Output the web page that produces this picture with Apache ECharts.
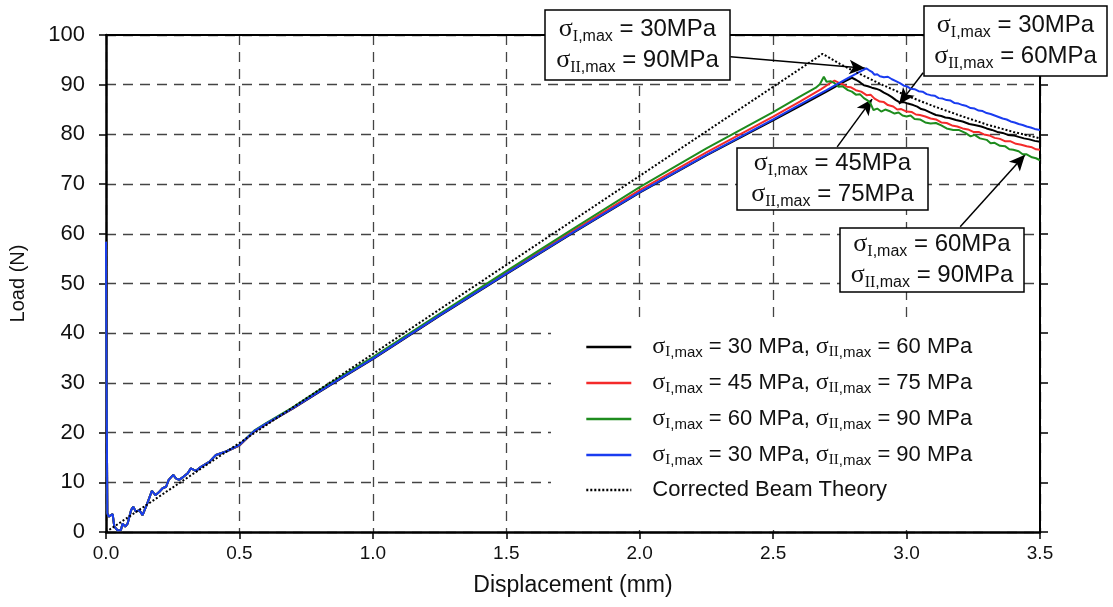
<!DOCTYPE html>
<html>
<head>
<meta charset="utf-8">
<script src="https://cdn.jsdelivr.net/npm/echarts@6/dist/echarts.min.js"></script>
<style>
html,body{margin:0;padding:0;background:#fff;}
#chart{width:1113px;height:607px;}
</style>
</head>
<body>
<div id="chart"></div>
<script>
// ---------- DATA ----------
const xTicks = [0, 0.5, 1.0, 1.5, 2.0, 2.5, 3.0, 3.5];
const yTicks = [0, 10, 20, 30, 40, 50, 60, 70, 80, 90, 100];

const seriesNames = [
  'σI,max = 30 MPa, σII,max = 60 MPa',
  'σI,max = 45 MPa, σII,max = 75 MPa',
  'σI,max = 60 MPa, σII,max = 90 MPa',
  'σI,max = 30 MPa, σII,max = 90 MPa',
  'Corrected Beam Theory'
];

// shared start-up portion (load spike + noisy toe) — all test curves overlap here
const startupPoints = [
  [0,58.4],[0.002,30],[0.005,3.8],[0.01,3.1],[0.025,3.6],[0.031,1.1],[0.044,0.3],[0.056,0.4],
  [0.062,1.7],[0.072,1.1],[0.081,1.7],[0.094,4.4],[0.102,5.1],[0.112,4.1],[0.125,4.4],[0.137,3.4],
  [0.15,5.1],[0.162,6.8],[0.172,8.3],[0.185,7.4],[0.2,8.1],[0.212,8.8],[0.225,9.1],[0.235,10.5],
  [0.252,11.5],[0.262,10.8],[0.274,10.5],[0.29,11.1],[0.306,11.8],[0.318,12.8],[0.337,12.3],
  [0.356,13.1],[0.387,14.1],[0.412,15.5],[0.45,16.2]
];

const black30_60 = [
  [0.5,17.4],[0.555,20.2],[0.6,21.7],[0.7,24.8],[0.8,28.2],[0.9,31.5],[1.0,34.8],[1.25,43.5],[1.5,51.9],
  [1.75,60.2],[2.0,68.3],[2.25,75.8],[2.5,82.8],[2.6,85.7],[2.7,88.6],[2.77,90.7],[2.795,91.4],
  [2.81,91.0],[2.825,90.5],[2.84,89.9],[2.855,89.7],[2.87,89.4],[2.885,89.2],[2.90,88.9],[2.915,88.4],
  [2.93,88.0],[2.945,87.5],[2.96,86.9],[2.976,86.4],[2.99,86.5],[3.005,86.2],[3.025,85.9],[3.04,85.6],
  [3.055,85.1],[3.07,84.9],[3.09,84.4],[3.11,83.9],[3.13,83.7],[3.145,83.4],[3.16,83.3],[3.185,82.9],
  [3.21,82.6],[3.235,82.1],[3.255,81.9],[3.28,81.6],[3.30,81.2],[3.32,80.9],[3.34,80.5],[3.36,80.3],
  [3.38,79.9],[3.40,79.8],[3.42,79.5],[3.44,79.2],[3.46,79.0],[3.48,78.7],[3.5,78.5]
];

const red45_75 = [
  [0.5,17.4],[0.555,20.3],[0.6,21.8],[0.7,24.9],[0.8,28.4],[0.9,31.7],[1.0,35.0],[1.25,43.7],[1.5,52.2],
  [1.75,60.6],[2.0,68.8],[2.25,76.4],[2.5,83.6],[2.6,86.6],[2.68,89.1],[2.71,90.2],[2.73,90.8],
  [2.745,90.4],[2.76,90.1],[2.776,89.6],[2.79,89.5],[2.81,88.9],[2.83,88.6],[2.85,87.9],[2.865,88.0],
  [2.88,87.2],[2.9,86.6],[2.915,86.5],[2.93,85.9],[2.95,85.6],[2.965,85.0],[2.98,85.1],[3.0,84.6],
  [3.02,84.5],[3.035,84.0],[3.05,83.9],[3.07,83.6],[3.09,83.2],[3.11,83.0],[3.13,82.4],[3.15,82.3],
  [3.17,81.8],[3.19,81.6],[3.21,81.2],[3.23,81.0],[3.25,80.5],[3.27,80.5],[3.29,80.0],[3.31,79.8],
  [3.33,79.3],[3.35,79.1],[3.37,78.6],[3.39,78.6],[3.41,78.1],[3.43,77.9],[3.45,77.6],[3.47,77.4],
  [3.485,77.0],[3.5,76.9]
];

const green60_90 = [
  [0.5,17.5],[0.555,20.4],[0.6,21.9],[0.7,25.1],[0.8,28.6],[0.9,31.9],[1.0,35.2],[1.25,43.9],[1.5,52.5],
  [1.75,61.0],[2.0,69.4],[2.25,77.2],[2.5,84.5],[2.6,87.6],[2.66,89.4],[2.675,90.1],[2.69,91.6],
  [2.70,90.6],[2.715,90.7],[2.73,90.3],[2.745,89.6],[2.76,89.7],[2.78,88.9],[2.795,88.6],[2.81,88.0],
  [2.825,88.1],[2.84,87.3],[2.855,86.8],[2.866,86.1],[2.876,84.9],[2.89,85.2],[2.905,84.6],[2.92,85.0],
  [2.94,84.6],[2.955,84.2],[2.97,84.4],[2.985,83.8],[3.0,83.6],[3.015,83.8],[3.03,83.1],[3.05,83.0],
  [3.07,82.4],[3.09,82.2],[3.11,82.3],[3.13,81.8],[3.15,81.2],[3.175,80.9],[3.195,80.9],[3.22,80.3],
  [3.24,79.6],[3.255,79.9],[3.275,79.2],[3.30,78.9],[3.315,78.2],[3.33,78.3],[3.35,77.7],[3.37,77.6],
  [3.385,77.0],[3.40,76.9],[3.42,76.6],[3.435,76.0],[3.45,76.0],[3.47,75.4],[3.485,75.2],[3.5,74.8]
];

const blue30_90 = [
  [0.5,17.5],[0.555,20.3],[0.6,21.8],[0.7,24.9],[0.8,28.3],[0.9,31.6],[1.0,34.9],[1.25,43.6],[1.5,52.0],
  [1.75,60.3],[2.0,68.4],[2.25,75.9],[2.5,83.0],[2.6,86.0],[2.7,88.9],[2.78,91.3],[2.849,93.3],
  [2.86,92.9],[2.87,92.6],[2.88,92.0],[2.89,92.1],[2.90,91.7],[2.915,91.5],[2.93,91.6],[2.945,91.1],
  [2.96,90.7],[2.975,90.3],[2.99,89.8],[3.0,89.7],[3.015,89.2],[3.03,89.1],[3.045,88.7],[3.06,88.6],
  [3.075,88.1],[3.09,87.9],[3.105,87.8],[3.12,87.3],[3.135,87.2],[3.15,86.9],[3.165,86.8],[3.18,86.3],
  [3.195,86.2],[3.21,85.9],[3.225,85.7],[3.24,85.3],[3.255,85.2],[3.27,84.8],[3.285,84.7],[3.30,84.3],
  [3.315,84.1],[3.33,83.8],[3.345,83.5],[3.36,83.2],[3.375,83.0],[3.39,82.6],[3.405,82.4],[3.42,82.1],
  [3.435,81.9],[3.45,81.6],[3.465,81.4],[3.48,81.1],[3.5,80.9]
];

const beamTheory = [
  [0,0],[2.685,96.2],[2.75,94.2],[2.8,92.8],[2.9,90.2],[3.0,87.8],[3.1,85.7],[3.2,83.8],[3.3,82.0],[3.4,80.5],[3.5,79.2]
];

// annotation arrows: [fromX, fromY, toX, toY] in data units
const annotationArrows = [
  [2.340, 95.6, 2.845, 93.3],
  [3.062, 92.4, 2.972, 86.1],
  [2.740, 77.5, 2.871, 87.1],
  [3.201, 61.4, 3.444, 75.9]
];
// annotation labels: [sigmaI, sigmaII]
const annotationLabels = [
  ['30', '90'],
  ['30', '60'],
  ['45', '75'],
  ['60', '90']
];
// ---------- END DATA ----------

const colors = ['#000000', '#f42a2a', '#1e8c1e', '#1a3cf0', '#000000'];

const richStyles = {
  t: {fontSize: 22, fontFamily: 'Liberation Sans', color: '#111', lineHeight: 26},
  s: {fontSize: 24, fontFamily: 'Liberation Serif', color: '#111', lineHeight: 26},
  r: {fontSize: 15, fontFamily: 'Liberation Serif', color: '#111', lineHeight: 15, verticalAlign: 'bottom'},
  m: {fontSize: 15, fontFamily: 'Liberation Sans', color: '#111', lineHeight: 15, verticalAlign: 'bottom'}
};
const boxRich = {
  t: {fontSize: 24, fontFamily: 'Liberation Sans', fill: '#111', lineHeight: 31},
  s: {fontSize: 26, fontFamily: 'Liberation Serif', fill: '#111', lineHeight: 31},
  r: {fontSize: 16, fontFamily: 'Liberation Serif', fill: '#111', lineHeight: 16, verticalAlign: 'bottom'},
  m: {fontSize: 16, fontFamily: 'Liberation Sans', fill: '#111', lineHeight: 16, verticalAlign: 'bottom'}
};

function legendRich(name) {
  if (name === 'Corrected Beam Theory') return '{t|' + name + '}';
  const m = name.match(/σI,max = (\d+) MPa, σII,max = (\d+) MPa/);
  return '{s|σ}{r|I}{m|,max}{t| = ' + m[1] + ' MPa, }{s|σ}{r|II}{m|,max}{t| = ' + m[2] + ' MPa}';
}

const chart = echarts.init(document.getElementById('chart'));

const dataSets = [
  startupPoints.concat(black30_60),
  startupPoints.concat(red45_75),
  startupPoints.concat(green60_90),
  startupPoints.concat(blue30_90),
  beamTheory
];

const series = dataSets.map((d, i) => ({
  name: seriesNames[i],
  type: 'line',
  data: d,
  symbol: 'none',
  showSymbol: false,
  smooth: false,
  animation: false,
  lineStyle: {color: colors[i], width: 2, type: i === 4 ? [2, 2] : 'solid'},
  itemStyle: {color: colors[i]},
  z: 3 + i
}));

series.push({
  type: 'line',
  name: 'arrows',
  data: [],
  animation: false,
  markLine: {
    silent: true,
    animation: false,
    symbol: ['none', 'arrow'],
    symbolSize: [11, 16],
    label: {show: false},
    lineStyle: {color: '#000', width: 1.5, type: 'solid'},
    emphasis: {disabled: true},
    data: annotationArrows.map(a => [{coord: [a[0], a[1]]}, {coord: [a[2], a[3]]}])
  },
  z: 20
});

// annotation box geometry (pixel layout)
const boxRects = [
  [545, 10, 185, 70],
  [924, 6, 183, 70],
  [737, 148, 191, 62],
  [840, 228, 184, 64]
];

const graphics = [{
  // white panel behind the legend (hides grid lines there)
  type: 'rect', z: 1, silent: true,
  shape: {x: 551, y: 322, width: 487, height: 208},
  style: {fill: '#fff'}
}];
annotationLabels.forEach((lab, i) => {
  const [bx, by, bw, bh] = boxRects[i];
  graphics.push({
    type: 'rect', z: 100,
    shape: {x: bx, y: by, width: bw, height: bh},
    style: {fill: '#fff', stroke: '#000', lineWidth: 1.5}
  });
  graphics.push({
    type: 'text', z: 101,
    x: bx + bw / 2, y: by + bh / 2,
    style: {
      text: '{s|σ}{r|I}{m|,max}{t| = ' + lab[0] + 'MPa}\n{s|σ}{r|II}{m|,max}{t| = ' + lab[1] + 'MPa}',
      rich: boxRich,
      align: 'center',
      verticalAlign: 'middle'
    }
  });
});

const gridLine = {show: true, lineStyle: {color: '#444', width: 1.3, type: [10, 7]}};

chart.setOption({
  backgroundColor: '#fff',
  animation: false,
  grid: {left: 105, right: 73, top: 35, bottom: 75, containLabel: false},
  xAxis: [{
    type: 'value', min: 0, max: 3.5, interval: 0.5,
    name: 'Displacement (mm)', nameLocation: 'middle', nameGap: 42,
    nameTextStyle: {fontSize: 23, fontFamily: 'Liberation Sans', color: '#111'},
    axisLine: {show: true, onZero: false, lineStyle: {color: '#000', width: 2.5}},
    axisTick: {show: true, length: 7, lineStyle: {color: '#000', width: 1.5}},
    axisLabel: {fontSize: 19, fontFamily: 'Liberation Sans', color: '#111', margin: 12,
      formatter: v => v.toFixed(1)},
    splitLine: gridLine
  }, {
    type: 'value', min: 0, max: 3.5, interval: 0.5, position: 'top',
    axisLine: {show: true, onZero: false, lineStyle: {color: '#000', width: 2}},
    axisTick: {show: false}, axisLabel: {show: false}, splitLine: {show: false}
  }],
  yAxis: [{
    type: 'value', min: 0, max: 100, interval: 10,
    name: 'Load (N)', nameLocation: 'middle', nameGap: 78, nameRotate: 90,
    nameTextStyle: {fontSize: 20, fontFamily: 'Liberation Sans', color: '#111'},
    axisLine: {show: true, onZero: false, lineStyle: {color: '#000', width: 2.5}},
    axisTick: {show: true, length: 7, lineStyle: {color: '#000', width: 1.5}},
    axisLabel: {fontSize: 22, fontFamily: 'Liberation Sans', color: '#111', margin: 21},
    splitLine: gridLine
  }, {
    type: 'value', min: 0, max: 100, interval: 10, position: 'right',
    axisLine: {show: true, onZero: false, lineStyle: {color: '#000', width: 2}},
    axisTick: {show: true, length: 8, lineStyle: {color: '#000', width: 1.5}},
    axisLabel: {show: false}, splitLine: {show: false}
  }],
  legend: {
    data: seriesNames,
    orient: 'vertical',
    left: 551, top: 322,
    padding: [13, 10, 10, 34],
    itemWidth: 45, itemHeight: 12, itemGap: 11,
    selectedMode: false,
    formatter: legendRich,
    itemStyle: {opacity: 0},
    lineStyle: {width: 2.6},
    textStyle: {rich: richStyles, padding: [0, 0, 0, 16]},
    z: 10
  },
  series: series,
  graphic: graphics
});
</script>
</body>
</html>
